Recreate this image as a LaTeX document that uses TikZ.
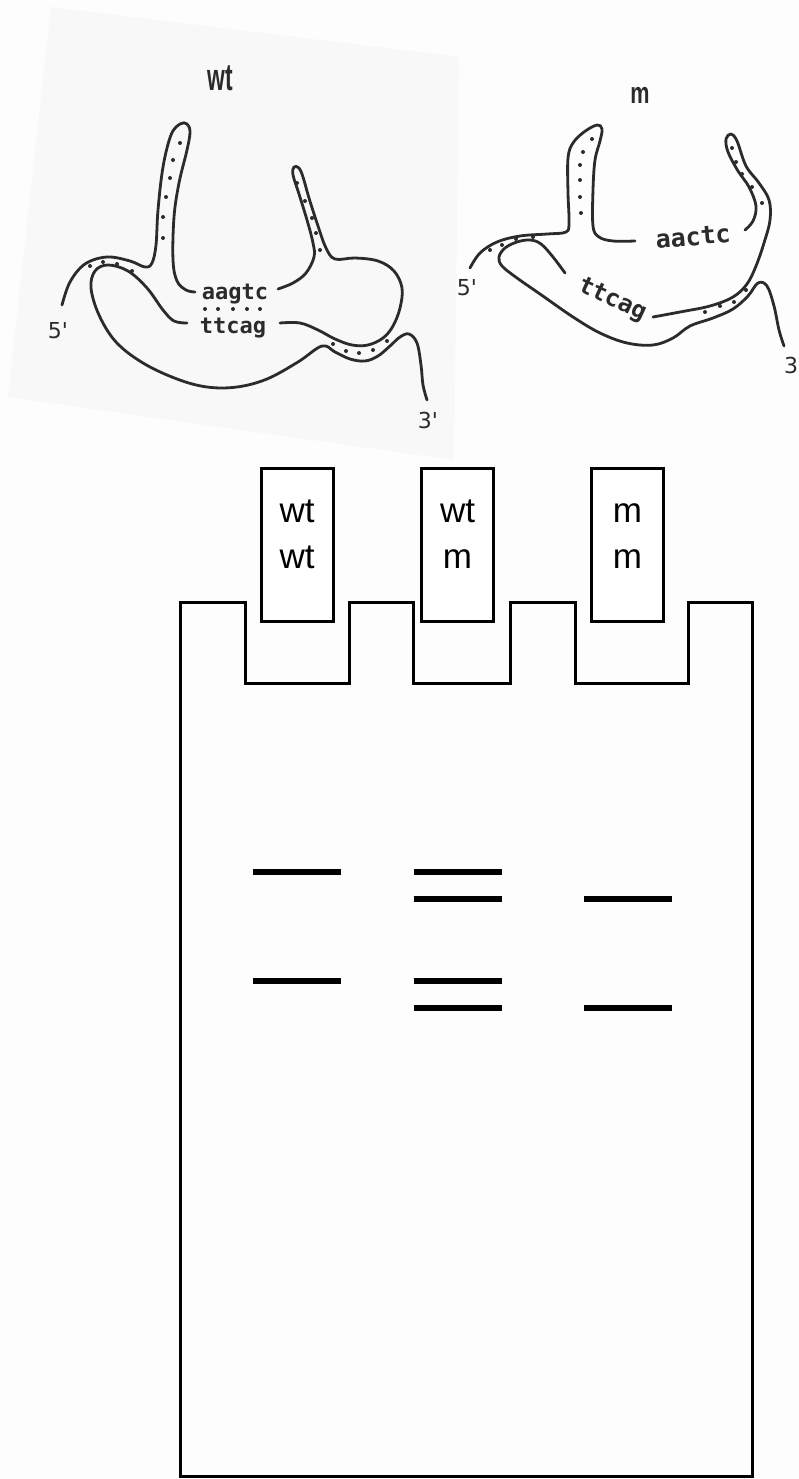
\documentclass[tikz,border=0pt]{standalone}
\usepackage{graphicx}
\usepackage{fontspec}
\setmainfont{Liberation Sans}
\newfontfamily\seqfont{DejaVu Sans Mono}
\newfontfamily\endfont{DejaVu Sans}
\definecolor{paper}{gray}{0.992}
\definecolor{scan}{gray}{0.972}
\definecolor{ink}{gray}{0.17}

\begin{document}
\begin{tikzpicture}[x=1pt,y=-1pt,
    strand/.style={draw=ink, line width=2.8pt, line cap=round, line join=round},
    seq/.style={text=ink, inner sep=0pt},
    endlbl/.style={text=ink, inner sep=0pt, font=\endfont\fontsize{22}{22}\selectfont},
    well/.style={draw, fill=white, line width=3pt, minimum width=72pt, minimum height=153pt, inner sep=0pt},
    welltext/.style={anchor=base, inner sep=0pt, font=\fontsize{35}{35}\selectfont},
    band/.style={line width=6pt, line cap=butt}]
    \useasboundingbox (0,0) rectangle (799,1479);
    \fill[paper] (0,0) rectangle (799,1479);
    \fill[scan] (51,7) -- (459,57) -- (454,460) -- (8,397) -- cycle;

    % wild type fold
    \node[seq, font=\bfseries\fontsize{38}{38}\selectfont] (wtname) at (220,78) {\scalebox{0.6}[1]{wt}};
    \draw[strand] plot[smooth, tension=0.6] coordinates {(62,305) (70,282) (85,264) (107,257) (130,261) (145,267) (152,263) (156,245) (158,210) (163,167) (171,135) (180,124) (187,124) (190,132) (187,150) (179,183) (174,217) (173,260) (177,281) (186,290) (195,292)};
    \draw[strand] plot[smooth, tension=0.6] coordinates {(278,289) (293,283) (306,273) (314,257) (313,243) (307,220) (299,194) (293,175) (294,167) (299,168) (303,177) (309,198) (318,226) (326,248) (335,259) (355,258) (378,261) (394,271) (402,288) (400,308) (393,326) (383,338) (368,345) (352,345) (335,339) (318,330) (300,323) (280,323)};
    \draw[strand] plot[smooth, tension=0.6] coordinates {(187,323) (174,321) (163,310) (147,288) (128,271) (108,265) (95,271) (91,288) (99,315) (116,342) (143,363) (177,379) (207,387) (237,387) (267,379) (298,362) (322,346) (335,352) (350,359) (365,361) (378,356) (390,346) (400,337) (409,334) (417,343) (421,365) (423,385) (427,400)};
    \foreach \p in {(180,143), (173,160), (170,178), (166,197), (163,217), (163,238),
        (297,183), (305,201), (312,218), (316,233), (320,250),
        (90,266), (103,262), (117,264), (132,271),
        (333,344), (346,351), (359,353), (373,350), (387,341),
        (205,309), (218,309), (233,309), (247,309), (260,309)}
        \fill[ink] \p circle (2pt);
    \node[seq, anchor=base, font=\seqfont\bfseries\fontsize{22}{22}\selectfont] (wttop) at (235,299) {aagtc};
    \node[seq, anchor=base, font=\seqfont\bfseries\fontsize{22}{22}\selectfont] (wtbot) at (233,333) {ttcag};
    \node[endlbl] (wtfive) at (58,331) {5'};
    \node[endlbl] (wtthree) at (428,420) {3'};

    % mutant fold
    \node[seq, font=\bfseries\fontsize{30}{30}\selectfont] (mname) at (640,95) {\scalebox{0.72}[1]{m}};
    \draw[strand] plot[smooth, tension=0.6] coordinates {(470,268) (480,253) (497,242) (520,236) (547,234) (566,232) (569,222) (568,193) (568,158) (573,143) (584,132) (597,125) (602,129) (600,141) (595,160) (593,190) (593,226) (599,237) (613,241) (635,241)};
    \draw[strand] plot[smooth, tension=0.6] coordinates {(745,230) (753,221) (756,206) (749,187) (738,171) (728,152) (726,139) (731,134) (737,141) (746,166) (759,183) (769,200) (770,220) (764,243) (756,266) (747,284) (733,297) (710,306) (680,312) (653,317)};
    \draw[strand] plot[smooth, tension=0.6] coordinates {(565,273) (553,257) (541,244) (530,240) (517,242) (505,248) (499,257) (502,266) (517,278) (540,294) (573,317) (600,333) (627,343) (653,345) (673,338) (690,326) (713,318) (733,309) (748,296) (758,283) (767,286) (774,306) (779,330) (784,346)};
    \foreach \p in {(592,139), (583,152), (580,165), (580,180), (580,197), (581,213),
        (732,148), (736,162), (742,174), (752,187), (762,203),
        (490,250), (502,245), (516,239), (533,237),
        (705,312), (720,306), (734,302), (746,290)}
        \fill[ink] \p circle (2pt);
    \node[seq, rotate=5, font=\seqfont\bfseries\fontsize{25}{25}\selectfont] (mtop) at (693,237) {aactc};
    \node[seq, rotate=-25, font=\seqfont\bfseries\fontsize{24}{24}\selectfont] (mbot) at (612,300) {ttcag};
    \node[endlbl] (mfive) at (467,288) {5'};
    \node[endlbl] (mthree) at (791,365) {3};

    % gel with wells
    \draw[line width=3pt] (180,1476) -- (180,602) -- (245,602) -- (245,683) -- (349,683) -- (349,602)
        -- (413,602) -- (413,683) -- (510,683) -- (510,602) -- (575,602) -- (575,683)
        -- (688,683) -- (688,602) -- (752,602) -- (752,1476) -- cycle;
    \foreach \x/\a/\b [count=\i] in {297/wt/wt, 457.5/wt/m, 627.5/m/m} {
        \node[well] (well\i) at (\x,544.5) {};
        \node[welltext] (top\i) at (\x,522) {\a};
        \node[welltext] (bot\i) at (\x,568) {\b};
    }
    \foreach \x/\y in {297/872, 297/980.5, 457.5/872, 457.5/899, 457.5/980.5, 457.5/1007.5, 627.5/899, 627.5/1007.5}
        \draw[band] (\x-44,\y) -- (\x+44,\y);
\end{tikzpicture}
\end{document}
